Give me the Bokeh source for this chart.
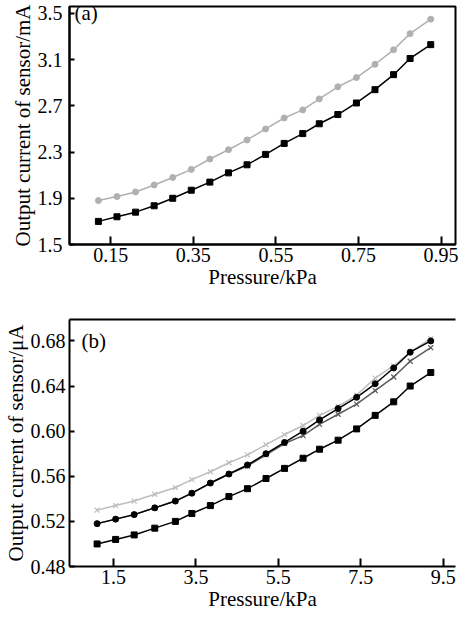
from bokeh.plotting import figure
from bokeh.layouts import column
from bokeh.models import Range1d, FixedTicker, LinearAxis, Label, NumeralTickFormatter
from bokeh.embed import file_html
from bokeh.resources import INLINE

# ---- data (a) ----
pa_x = [0.12, 0.165, 0.21, 0.255, 0.30, 0.345, 0.39, 0.435, 0.48, 0.525,
        0.57, 0.615, 0.655, 0.70, 0.745, 0.79, 0.835, 0.875, 0.925]
pa_gray = [1.88, 1.915, 1.955, 2.015, 2.08, 2.15, 2.24, 2.32, 2.405, 2.50,
           2.595, 2.665, 2.76, 2.865, 2.945, 3.06, 3.185, 3.325, 3.45]
pa_black = [1.70, 1.74, 1.78, 1.835, 1.90, 1.97, 2.04, 2.12, 2.19, 2.28,
            2.375, 2.46, 2.545, 2.625, 2.725, 2.84, 2.97, 3.11, 3.23]
a_xticks = [0.15, 0.35, 0.55, 0.75, 0.95]
a_yticks = [1.5, 1.9, 2.3, 2.7, 3.1, 3.5]

# ---- data (b) ----
pb_x = [1.1, 1.55, 2.0, 2.5, 3.0, 3.4, 3.85, 4.3, 4.75, 5.2,
        5.65, 6.1, 6.5, 6.95, 7.4, 7.85, 8.3, 8.7, 9.2]
pb_square = [0.500, 0.504, 0.508, 0.514, 0.520, 0.527, 0.534, 0.542, 0.549, 0.558,
             0.567, 0.576, 0.584, 0.592, 0.602, 0.614, 0.626, 0.640, 0.652]
pb_circle = [0.518, 0.522, 0.526, 0.532, 0.538, 0.545, 0.554, 0.562, 0.570, 0.580,
             0.590, 0.600, 0.610, 0.620, 0.630, 0.642, 0.656, 0.670, 0.680]
pb_lightx = [0.530, 0.534, 0.538, 0.544, 0.550, 0.557, 0.564, 0.572, 0.579, 0.588,
             0.597, 0.605, 0.614, 0.622, 0.632, 0.647, 0.658, 0.670, 0.682]
pb_darkx = [0.518, 0.522, 0.526, 0.532, 0.538, 0.545, 0.554, 0.562, 0.569, 0.579,
            0.589, 0.596, 0.606, 0.615, 0.624, 0.636, 0.648, 0.662, 0.674]
b_xticks = [1.5, 3.5, 5.5, 7.5, 9.5]
b_yticks = [0.48, 0.52, 0.56, 0.60, 0.64, 0.68]

FONT = "Liberation Serif"
GRAY = "#b0b0b0"
LGRAY = "#bdbdbd"
DGRAY = "#5a5a5a"


def style(p, xticks, yticks, xfmt, yfmt, xlabel, ylabel, ystand, ytitle_stand,
          xstand, xtitle_stand):
    p.grid.visible = False
    p.xaxis.ticker = FixedTicker(ticks=xticks)
    p.yaxis.ticker = FixedTicker(ticks=yticks)
    p.xaxis.formatter = NumeralTickFormatter(format=xfmt)
    p.yaxis.formatter = NumeralTickFormatter(format=yfmt)
    for ax in (p.xaxis[0], p.yaxis[0]):
        ax.axis_line_width = 2
        ax.axis_line_color = "black"
        ax.major_tick_out = 0
        ax.minor_tick_line_color = None
        ax.major_tick_line_width = 2
        ax.major_label_text_font = FONT
        ax.major_label_text_font_size = "20px"
        ax.major_label_text_color = "black"
        ax.major_label_text_line_height = 0.9
        ax.axis_label_text_font = FONT
        ax.axis_label_text_font_size = "21px"
        ax.axis_label_text_font_style = "normal"
        ax.axis_label_text_color = "black"
        ax.axis_label_text_line_height = 0.9
    p.xaxis.major_tick_in = 8
    p.yaxis.major_tick_in = 5
    p.xaxis.major_label_standoff = xstand
    p.yaxis.major_label_standoff = ystand
    p.xaxis.axis_label_standoff = xtitle_stand
    p.yaxis.axis_label_standoff = ytitle_stand
    p.xaxis.axis_label = xlabel
    p.yaxis.axis_label = ylabel
    p.background_fill_color = "white"
    p.border_fill_color = "white"


# ---- figure (a) ----
pa = figure(width=460, height=291, output_backend="svg", toolbar_location=None,
            x_range=Range1d(0.05, 0.985), y_range=Range1d(1.5, 3.56),
            min_border_left=67, min_border_right=5, min_border_top=6,
            min_border_bottom=40)
style(pa, a_xticks, a_yticks, "0.00", "0.0", "Pressure/kPa",
      "Output current of sensor/mA", 7, 0, 3, 0)
pa.outline_line_color = "black"
pa.outline_line_width = 2
pa.outline_line_alpha = 1

pa.line(pa_x, pa_gray, line_color=GRAY, line_width=1.5)
pa.scatter(pa_x, pa_gray, marker="circle", size=6, fill_color=GRAY, line_color=GRAY)
pa.line(pa_x, pa_black, line_color="black", line_width=1.5)
pa.scatter(pa_x, pa_black, marker="square", size=6, fill_color="black", line_color="black")
pa.add_layout(Label(x=0.062, y=3.5, text="(a)", text_font=FONT, text_font_size="21px",
                    text_baseline="middle", text_color="black"))

# ---- figure (b) ----
pb = figure(width=460, height=322, output_backend="svg", toolbar_location=None,
            x_range=Range1d(0.43, 9.8), y_range=Range1d(0.48, 0.699),
            min_border_left=69, min_border_right=5, min_border_top=28,
            min_border_bottom=40)
style(pb, b_xticks, b_yticks, "0.0", "0.00", "Pressure/kPa",
      "Output current of sensor/\u03bcA", 4, 0, 3, 0)
pb.outline_line_color = None
top_axis = LinearAxis(ticker=FixedTicker(ticks=[]), axis_line_width=2,
                      axis_line_color="black", major_tick_line_color=None,
                      minor_tick_line_color=None, major_label_text_font_size="0px")
pb.add_layout(top_axis, "above")

pb.line(pb_x, pb_lightx, line_color=LGRAY, line_width=1.5)
pb.scatter(pb_x, pb_lightx, marker="x", size=7, line_color=LGRAY, line_width=1.2)
pb.line(pb_x, pb_darkx, line_color=DGRAY, line_width=1.5)
pb.scatter(pb_x, pb_darkx, marker="x", size=7, line_color=DGRAY, line_width=1.2)
pb.line(pb_x, pb_circle, line_color="black", line_width=1.5)
pb.scatter(pb_x, pb_circle, marker="circle", size=6, fill_color="black", line_color="black")
pb.line(pb_x, pb_square, line_color="black", line_width=1.5)
pb.scatter(pb_x, pb_square, marker="square", size=6, fill_color="black", line_color="black")
pb.add_layout(Label(x=0.72, y=0.68, text="(b)", text_font=FONT, text_font_size="21px",
                    text_baseline="middle", text_color="black"))

layout = column(pa, pb, spacing=0)
open("out.html", "w").write(file_html(layout, INLINE))
